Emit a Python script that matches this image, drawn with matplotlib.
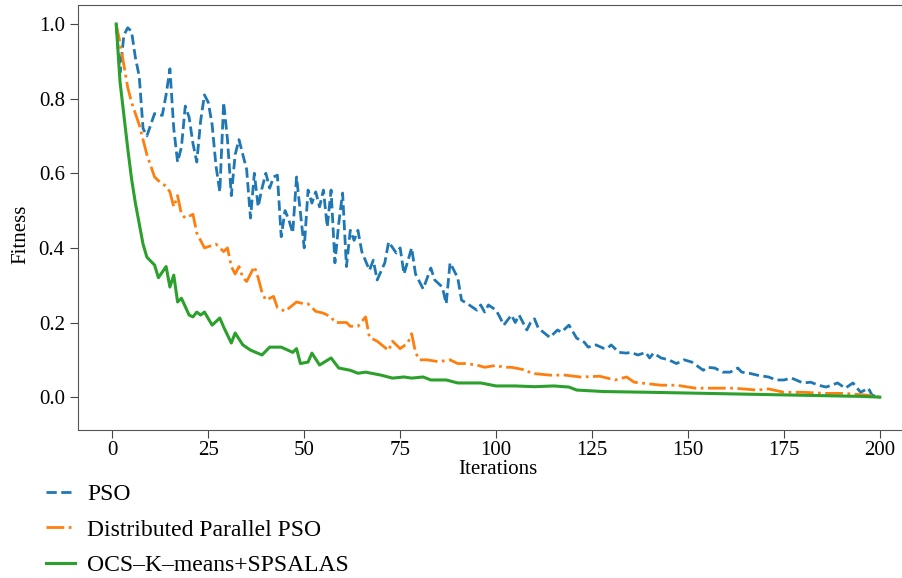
import matplotlib
matplotlib.use("Agg")
import matplotlib.pyplot as plt

# values (iteration, fitness)
pso_iter = [1, 2, 3, 4, 5, 6, 7, 8, 9, 10, 11, 13, 14, 15, 16, 17, 18, 19, 20,
            21, 22, 23, 24, 25, 26, 27, 28, 29, 30, 31, 32, 33, 34, 35, 36, 37,
            38, 39, 40, 41, 42, 43, 44, 45, 46, 47, 48, 50, 51, 52, 53, 54, 55,
            56, 57, 58, 59, 60, 61, 62, 63, 64, 65, 67, 68, 69, 71, 72, 74, 75,
            76, 78, 79, 81, 83, 84, 86, 87, 88, 90, 91, 93, 95, 96, 97, 98, 100,
            101, 102, 104, 105, 106, 108, 109, 110, 111, 114, 116, 117, 119, 121,
            123, 124, 126, 128, 129, 130, 132, 134, 135, 137, 139, 140, 141, 143,
            145, 147, 149, 151, 154, 155, 157, 159, 161, 163, 164, 166, 168, 171,
            173, 175, 177, 180, 182, 184, 186, 189, 191, 193, 195, 197, 198, 200]
pso_fit = [1.0, 0.87, 0.97, 0.99, 0.98, 0.91, 0.86, 0.72, 0.70, 0.73, 0.76, 0.755,
           0.81, 0.88, 0.72, 0.63, 0.67, 0.78, 0.75, 0.68, 0.63, 0.74, 0.81, 0.79,
           0.73, 0.62, 0.55, 0.79, 0.69, 0.54, 0.65, 0.69, 0.65, 0.61, 0.48, 0.60,
           0.51, 0.56, 0.60, 0.56, 0.59, 0.595, 0.43, 0.50, 0.475, 0.44, 0.59, 0.40,
           0.555, 0.52, 0.55, 0.51, 0.555, 0.456, 0.555, 0.36, 0.466, 0.547, 0.35,
           0.447, 0.42, 0.447, 0.39, 0.34, 0.367, 0.314, 0.36, 0.416, 0.386, 0.40,
           0.33, 0.40, 0.33, 0.29, 0.346, 0.314, 0.295, 0.25, 0.36, 0.32, 0.26,
           0.247, 0.233, 0.247, 0.228, 0.247, 0.233, 0.214, 0.193, 0.22, 0.20, 0.22,
           0.18, 0.20, 0.21, 0.185, 0.16, 0.18, 0.174, 0.193, 0.158, 0.147, 0.134,
           0.14, 0.131, 0.131, 0.14, 0.12, 0.118, 0.12, 0.113, 0.12, 0.105, 0.118,
           0.105, 0.10, 0.09, 0.10, 0.094, 0.072, 0.08, 0.078, 0.067, 0.067, 0.078,
           0.067, 0.064, 0.059, 0.054, 0.046, 0.046, 0.051, 0.038, 0.04, 0.032,
           0.027, 0.038, 0.024, 0.038, 0.013, 0.024, 0.005, 0.0]

dpso_iter = [1, 2, 3, 4, 5, 6, 7, 8, 9, 11, 12, 14, 15, 16, 17, 18, 19, 21, 22,
             23, 24, 27, 29, 30, 31, 32, 33, 34, 35, 37, 38, 39, 40, 42, 43, 45,
             48, 50, 51, 53, 55, 57, 58, 61, 62, 64, 66, 67, 69, 72, 73, 75, 77,
             78, 79, 80, 82, 85, 88, 90, 92, 95, 97, 100, 102, 104, 108, 109, 114,
             118, 122, 127, 131, 134, 136, 143, 147, 152, 156, 162, 168, 171, 175,
             180, 186, 191, 197, 200]
dpso_fit = [1.0, 0.95, 0.89, 0.83, 0.79, 0.76, 0.73, 0.69, 0.65, 0.59, 0.58, 0.565,
            0.55, 0.51, 0.54, 0.49, 0.48, 0.49, 0.44, 0.42, 0.40, 0.41, 0.39, 0.40,
            0.35, 0.33, 0.35, 0.32, 0.31, 0.35, 0.32, 0.28, 0.26, 0.27, 0.24, 0.23,
            0.255, 0.25, 0.25, 0.23, 0.225, 0.215, 0.20, 0.20, 0.19, 0.19, 0.215,
            0.16, 0.15, 0.125, 0.15, 0.13, 0.145, 0.17, 0.12, 0.10, 0.10, 0.095,
            0.10, 0.09, 0.09, 0.086, 0.08, 0.085, 0.08, 0.08, 0.072, 0.064, 0.059,
            0.059, 0.054, 0.056, 0.046, 0.054, 0.04, 0.032, 0.032, 0.024, 0.024,
            0.024, 0.019, 0.022, 0.013, 0.013, 0.01, 0.01, 0.005, 0.0]

ocs_iter = [1, 2, 3, 4, 5, 6, 7, 8, 9, 11, 12, 14, 15, 16, 17, 18, 20, 21, 22,
            23, 24, 26, 28, 29, 31, 32, 34, 36, 39, 41, 44, 47, 48, 49, 51, 52,
            54, 57, 59, 62, 64, 66, 70, 73, 76, 78, 81, 83, 87, 90, 96, 100, 105,
            110, 115, 119, 121, 128, 140, 155, 165, 180, 195, 200]
ocs_fit = [1.0, 0.845, 0.756, 0.667, 0.585, 0.52, 0.465, 0.41, 0.375, 0.354, 0.32,
           0.35, 0.295, 0.327, 0.255, 0.265, 0.22, 0.215, 0.228, 0.22, 0.228,
           0.193, 0.212, 0.188, 0.145, 0.172, 0.14, 0.126, 0.113, 0.134, 0.134,
           0.12, 0.13, 0.09, 0.094, 0.118, 0.086, 0.105, 0.078, 0.072, 0.064,
           0.067, 0.059, 0.051, 0.054, 0.051, 0.054, 0.046, 0.046, 0.038, 0.038,
           0.03, 0.03, 0.028, 0.03, 0.027, 0.019, 0.015, 0.013, 0.01, 0.008,
           0.005, 0.002, 0.0]

labels = ["PSO", "Distributed Parallel PSO", "OCS\u2013K\u2013means+SPSALAS"]

plt.rcParams["font.family"] = ["Liberation Serif", "DejaVu Serif"]

fig = plt.figure(figsize=(9.03, 5.78), dpi=100)
ax = fig.add_axes([0.0864, 0.2561, 0.9302, 0.7353])

ax.plot(pso_iter, pso_fit, color="#1f77b4", ls="--", lw=2, label=labels[0])
ax.plot(dpso_iter, dpso_fit, color="#ff7f0e", ls="-.", lw=2, label=labels[1])
ax.plot(ocs_iter, ocs_fit, color="#2ca02c", ls="-", lw=2.2, label=labels[2])

ax.set_xlim(-8.95, 209.95)
ax.set_ylim(-0.088, 1.051)
ax.set_xticks(range(0, 201, 25))
ax.set_yticks([0.0, 0.2, 0.4, 0.6, 0.8, 1.0])
ax.tick_params(labelsize=15, length=6, color="#444444")
ax.tick_params(axis="x", pad=2)
for s in ax.spines.values():
    s.set_color("#555555")

ax.set_xlabel("Iterations", fontsize=15, labelpad=0)
ax.set_ylabel("Fitness", fontsize=15)
ax.yaxis.set_label_coords(-0.057, 0.46)

fig.legend(loc="upper left", bbox_to_anchor=(0.04, 0.18), fontsize=17,
           frameon=False, handlelength=1.25, labelspacing=0.6,
           borderaxespad=0, handletextpad=0.5)

fig.savefig("out.png", dpi=100)
